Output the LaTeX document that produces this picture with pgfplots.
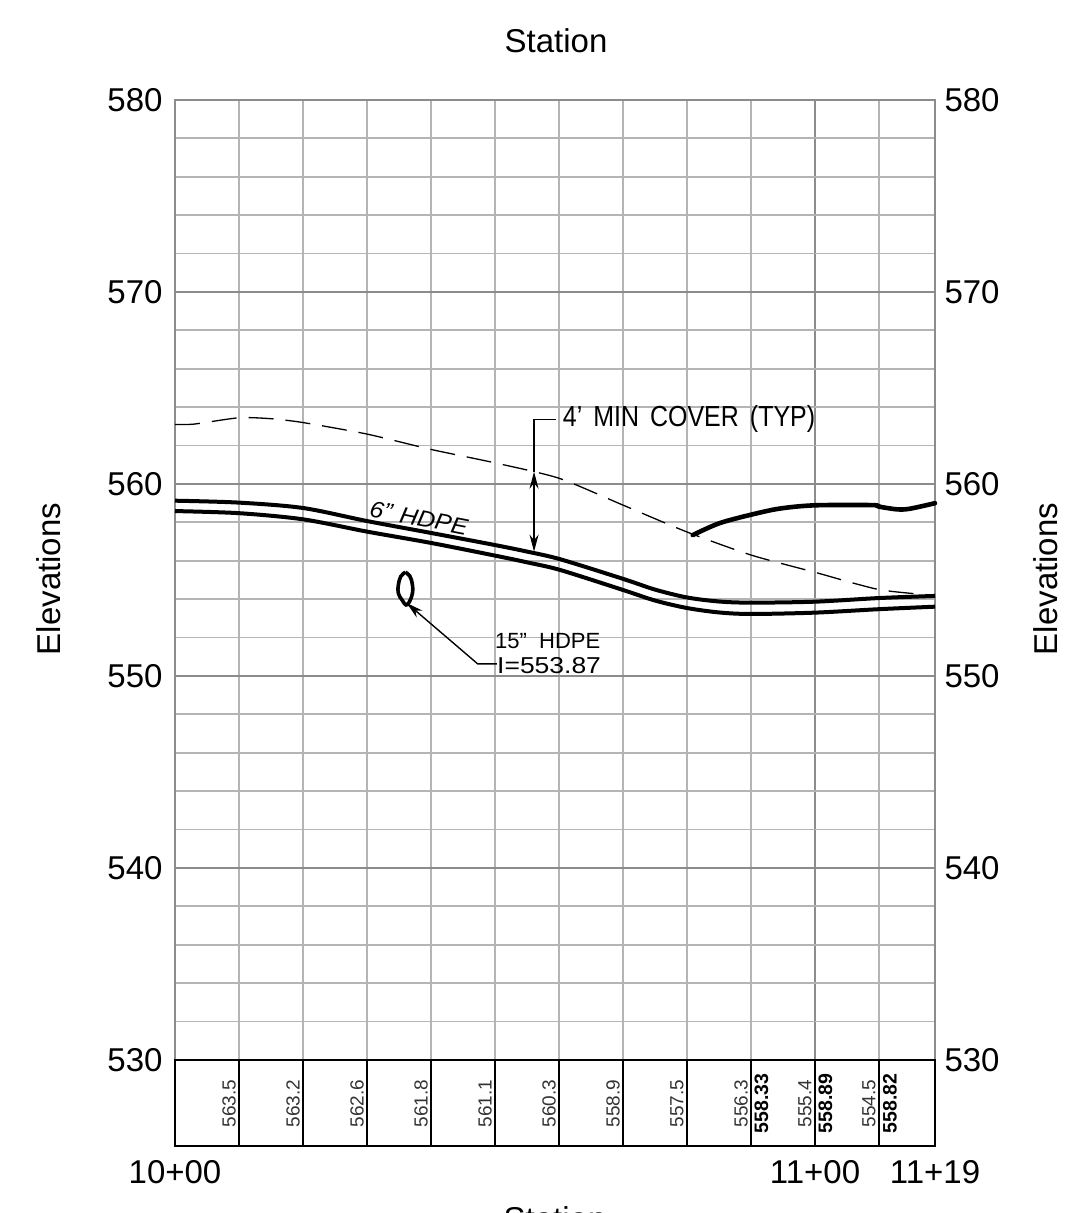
\documentclass[border=0pt]{standalone}
\usepackage{fontspec}
\setmainfont{Liberation Sans}
\usepackage{pgfplots}
\usepackage{pgfplotstable}
\pgfplotsset{compat=1.18}
\usetikzlibrary{arrows.meta}
\definecolor{gridlight}{HTML}{B4B4B4}
\definecolor{griddark}{HTML}{8C8C8C}
\newcommand{\fs}[1]{\fontsize{#1}{#1}\selectfont}
\pgfplotstableread{
x y
0 559.13
10 559.03
20 558.75
30 558.07
40 557.45
50 556.82
55 556.48
60.2 556.08
70 555.06
75 554.50
80 554.09
85 553.88
90 553.82
100 553.87
110 554.06
118.75 554.17
}\pipetop
\pgfplotstableread{
x y
0 558.59
10 558.48
20 558.16
30 557.52
40 556.93
50 556.27
55 555.92
60.2 555.52
70 554.48
75 553.93
80 553.54
85 553.31
90 553.23
100 553.30
110 553.48
118.75 553.61
}\pipebot
\pgfplotstableread{
x y
0 563.10
3 563.12
10 563.45
15 563.40
20 563.20
30 562.60
40 561.80
50 561.10
60 560.30
70 558.90
80 557.50
90 556.30
100 555.40
110 554.50
118.75 554.20
}\ground
\pgfplotstableread{
x y
80.9 557.34
85 557.95
90 558.40
94.5 558.72
100 558.89
109 558.90
110 558.82
112.8 558.68
114.8 558.71
118.75 559.00
}\proposed
\pgfplotstableread{
x y label
8.44 527.73 563.5
18.44 527.73 563.2
28.44 527.73 562.6
38.44 527.73 561.8
48.44 527.73 561.1
58.44 527.73 560.3
68.44 527.73 558.9
78.44 527.73 557.5
88.44 527.73 556.3
98.44 527.73 555.4
108.44 527.73 554.5
}\grounddata
\pgfplotstableread{
x y label
91.64 527.73 558.33
101.64 527.73 558.89
111.70 527.73 558.82
}\propdata
\begin{document}
\begin{tikzpicture}[x=1pt,y=-1pt]
\useasboundingbox (0,0) rectangle (1071,1213);
\begin{axis}[
  at={(175pt,-1146pt)}, anchor=south west,
  scale only axis, width=760pt, height=1046pt,
  xmin=0, xmax=118.75, ymin=525.52, ymax=580,
  xtick={0,100,118.75}, xticklabels={10+00,11+00,11+19},
  minor xtick={10,20,30,40,50,60,70,80,90,110},
  ytick={530,540,550,560,570,580},
  minor ytick={532,534,536,538,542,544,546,548,552,554,556,558,562,564,566,568,572,574,576,578},
  grid=both,
  major grid style={griddark,line width=1.8pt},
  minor grid style={gridlight,line width=1.8pt},
  tick style={draw=none}, minor tick length=0pt, major tick length=0pt,
  axis line style={griddark,line width=2pt},
  /pgf/number format/assume math mode=true,
  /pgf/number format/1000 sep={},
  tick label style={font=\fs{33}},
  ytick pos=left, xtick pos=lower,
  yticklabel style={xshift=-9pt},
  xticklabel style={yshift=-11pt},
  clip=false,
  axis on top=false,
]
% profile table
\draw[black,line width=1.8pt] (axis cs:0,530) rectangle (axis cs:118.75,525.52);
\pgfplotsinvokeforeach{10,20,30,40,50,60,70,80,90,100,110}{
  \draw[black,line width=1.2pt] (axis cs:#1,530) -- (axis cs:#1,525.52);
}
\addplot[draw=black,line width=1.3pt,smooth,tension=0.4,dash pattern=on 25pt off 12pt] table {\ground};
\addplot[draw=black,line width=4pt,smooth,tension=0.5] table {\pipetop};
\addplot[draw=black,line width=4pt,smooth,tension=0.5] table {\pipebot};
\addplot[draw=black,line width=4.6pt,smooth,tension=0.5,line cap=round] table {\proposed};
\addplot[draw=black,line width=3.6pt,smooth,tension=0.7] coordinates {(36,555.4) (36.7,555.2) (37.1,554.75) (37.1,554.3) (36.6,553.85) (36.1,553.7) (35.5,553.95) (34.9,554.3) (34.9,554.75) (35.3,555.2) (36,555.4)};
\addplot[only marks,mark=none,point meta=explicit symbolic,nodes near coords,
  every node near coord/.style={rotate=90,anchor=center,inner sep=0pt,text=black!80,font=\fs{19}}]
  table[meta=label] {\grounddata};
\addplot[only marks,mark=none,point meta=explicit symbolic,nodes near coords,
  every node near coord/.style={rotate=90,anchor=center,inner sep=0pt,font=\fs{19.5}\bfseries}]
  table[meta=label] {\propdata};
% annotations
\draw[black,line width=1.4pt,{Stealth[length=17pt,width=9pt]}-{Stealth[length=17pt,width=9pt]}] (axis cs:56.1,560.64) -- (axis cs:56.1,556.48);
\draw[black,line width=1.4pt] (axis cs:56.1,560.64) -- (axis cs:56.1,563.35) -- (axis cs:59.5,563.35);
\draw[black,line width=1.4pt,{Stealth[length=17pt,width=9pt]}-] (axis cs:36.2,553.8) -- (axis cs:47.3,550.63) -- (axis cs:50.3,550.63);
\end{axis}
\begin{axis}[
  at={(175pt,-1146pt)}, anchor=south west,
  scale only axis, width=760pt, height=1046pt,
  xmin=0, xmax=118.75, ymin=525.52, ymax=580,
  axis x line=none, axis y line*=right,
  axis line style={draw=none},
  ytick={530,540,550,560,570,580},
  tick style={draw=none}, major tick length=0pt,
  /pgf/number format/assume math mode=true,
  /pgf/number format/1000 sep={},
  tick label style={font=\fs{33}},
  yticklabel style={xshift=6pt},
]
\end{axis}
\node[font=\fs{33}] at (556,41) {Station};
\node[font=\fs{33},anchor=north] at (555,1203) {Station};
\node[font=\fs{33},rotate=90] at (49,579) {Elevations};
\node[font=\fs{33},rotate=90] at (1046,579) {Elevations};
\node[font=\fs{29},xscale=0.86,inner sep=0pt] at (689,419) {4'\;\,MIN\;\,COVER\;\,(TYP)};
\node[font=\fs{23}\itshape,rotate=-11,inner sep=0pt,xscale=1.08] at (419,518) {6"\,\,HDPE};
\node[font=\fs{22},anchor=west,inner sep=0pt,xscale=1.0] at (495,641) {15"\;\;HDPE};
\node[font=\fs{23},anchor=west,inner sep=0pt,xscale=1.15] at (497,665.5) {I=553.87};
\end{tikzpicture}
\end{document}
